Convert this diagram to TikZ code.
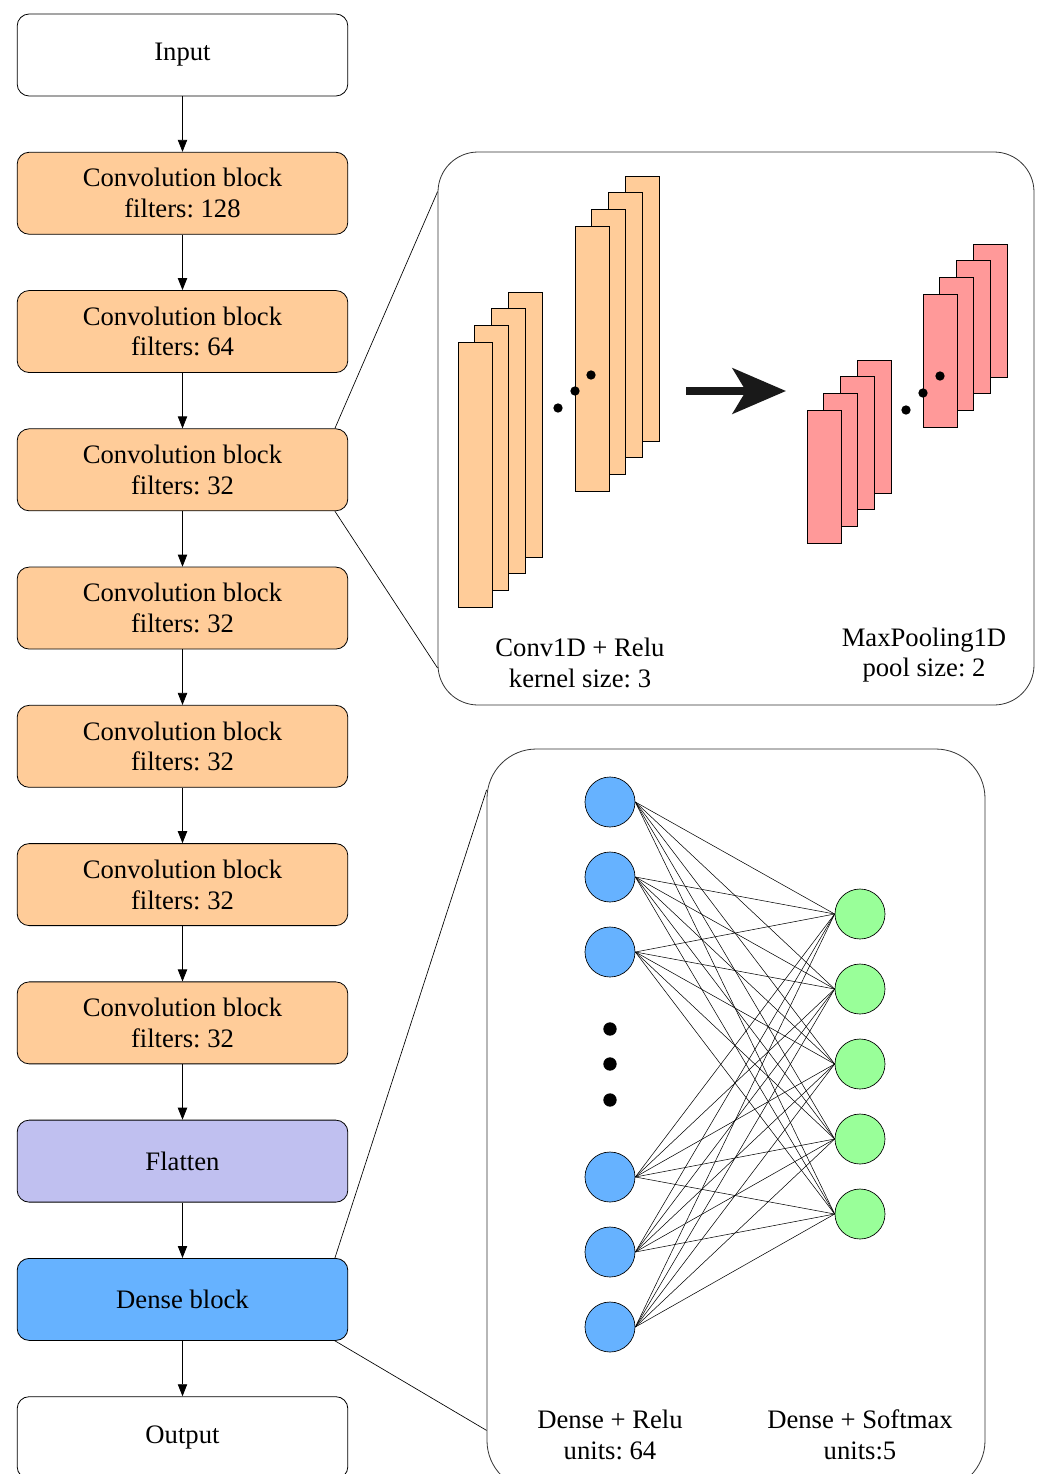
\documentclass[tikz,border=0pt]{standalone}
\usepackage{fontspec}
\setmainfont{Liberation Serif}
\usepackage{xcolor}
\usepackage{tikz}
\usetikzlibrary{arrows.meta,positioning,calc}
\frenchspacing

\definecolor{convorange}{HTML}{FFCC99}
\definecolor{poolpink}{HTML}{FF9999}
\definecolor{flatlilac}{RGB}{192,192,240}
\definecolor{unitblue}{HTML}{66B2FF}
\definecolor{unitgreen}{HTML}{99FF99}

\begin{document}
\begin{tikzpicture}[x=0.75pt, y=-0.75pt, node distance=41.6pt,
    every node/.style={font=\fontsize{20}{23}\selectfont, align=center},
    blockbox/.style={draw, rounded corners=9pt, minimum width=248pt,
      minimum height=61.5pt, line width=0.6pt},
    panel/.style={draw=black!80, line width=0.6pt, minimum width=447pt},
    flowarrow/.style={-{Triangle[length=9pt,width=7pt]}, line width=0.6pt},
    unit/.style={circle, draw, minimum size=37.5pt, inner sep=0pt, line width=0.5pt}]
  \useasboundingbox (0,0) rectangle (1040,1474);

  % main column
  \node[blockbox] (in) at (182.5,55) {Input};
  \node[blockbox, fill=convorange, below=of in] (c1) {Convolution block\\filters: 128};
  \node[blockbox, fill=convorange, below=of c1] (c2) {Convolution block\\filters: 64};
  \node[blockbox, fill=convorange, below=of c2] (c3) {Convolution block\\filters: 32};
  \node[blockbox, fill=convorange, below=of c3] (c4) {Convolution block\\filters: 32};
  \node[blockbox, fill=convorange, below=of c4] (c5) {Convolution block\\filters: 32};
  \node[blockbox, fill=convorange, below=of c5] (c6) {Convolution block\\filters: 32};
  \node[blockbox, fill=convorange, below=of c6] (c7) {Convolution block\\filters: 32};
  \node[blockbox, fill=flatlilac, below=of c7] (fl) {Flatten};
  \node[blockbox, fill=unitblue, below=of fl] (dn) {Dense block};
  \node[blockbox, below=of dn] (out) {Output};
  \foreach \u/\v in {in/c1,c1/c2,c2/c3,c3/c4,c4/c5,c5/c6,c6/c7,c7/fl,fl/dn,dn/out}
    \draw[flowarrow] (\u) -- (\v);

  % convolution block detail
  \node[panel, rounded corners=30pt, minimum height=414.75pt] (convpanel) at (736,428.5) {};
  \draw[line width=0.5pt] ([xshift=-10pt]c3.north east) -- ([yshift=-30pt]convpanel.north west);
  \draw[line width=0.5pt] ([xshift=-10pt]c3.south east) -- ([yshift=28pt]convpanel.south west);

  \foreach \k in {3,2,1,0} {
    \draw[fill=convorange, line width=0.6pt] ({458+16.7*\k},{342-16.7*\k}) rectangle +(34,265);
  }
  \foreach \k in {3,2,1,0} {
    \draw[fill=convorange, line width=0.6pt] ({575+16.7*\k},{226-16.7*\k}) rectangle +(34,265);
  }
  \foreach \k in {3,2,1,0} {
    \draw[fill=poolpink, line width=0.6pt] ({807+16.7*\k},{410-16.7*\k}) rectangle +(34,133);
  }
  \foreach \k in {3,2,1,0} {
    \draw[fill=poolpink, line width=0.6pt] ({923+16.7*\k},{294-16.7*\k}) rectangle +(34,133);
  }
  \foreach \p in {(558,408),(575,391),(591,375),(906,410),(923,393),(940,376)}
    \fill \p circle (3.5pt);

  \coordinate (arrs) at (686,391);
  \coordinate (arre) at (786,391);
  \draw[line width=6pt, black!90, -{Stealth[length=40pt,width=34pt,inset=10pt]}] (arrs) -- (arre);

  \node (convlab) at (580,663) {Conv1D + Relu\\kernel size: 3};
  \node (poollab) at (924,655) {MaxPooling1D\\pool size: 2};

  % dense block detail
  \node[panel, rounded corners=37pt, minimum width=373.5pt, minimum height=555.75pt]
    (densepanel) at (736,1119.5) {};
  \draw[line width=0.5pt] ([xshift=-10pt]dn.north east) -- ([yshift=-31pt]densepanel.north west);
  \draw[line width=0.5pt] ([xshift=-10pt]dn.south east) -- ([yshift=45pt]densepanel.south west);

  \foreach \y [count=\i] in {802,877,952,1177,1252,1327}
    \node[unit, fill=unitblue] (b\i) at (610,\y) {};
  \foreach \y [count=\i] in {914,989,1064,1139,1214}
    \node[unit, fill=unitgreen] (g\i) at (860,\y) {};
  \foreach \i in {1,...,6}
    \foreach \j in {1,...,5}
      \draw[line width=0.4pt] (b\i.east) -- (g\j.west);
  \foreach \y in {1029,1064,1100}
    \fill (610,\y) circle (5pt);

  \node (relulab) at (610,1435) {Dense + Relu\\units: 64};
  \node (softlab) at (860,1435) {Dense + Softmax\\units:5};
\end{tikzpicture}
\end{document}
